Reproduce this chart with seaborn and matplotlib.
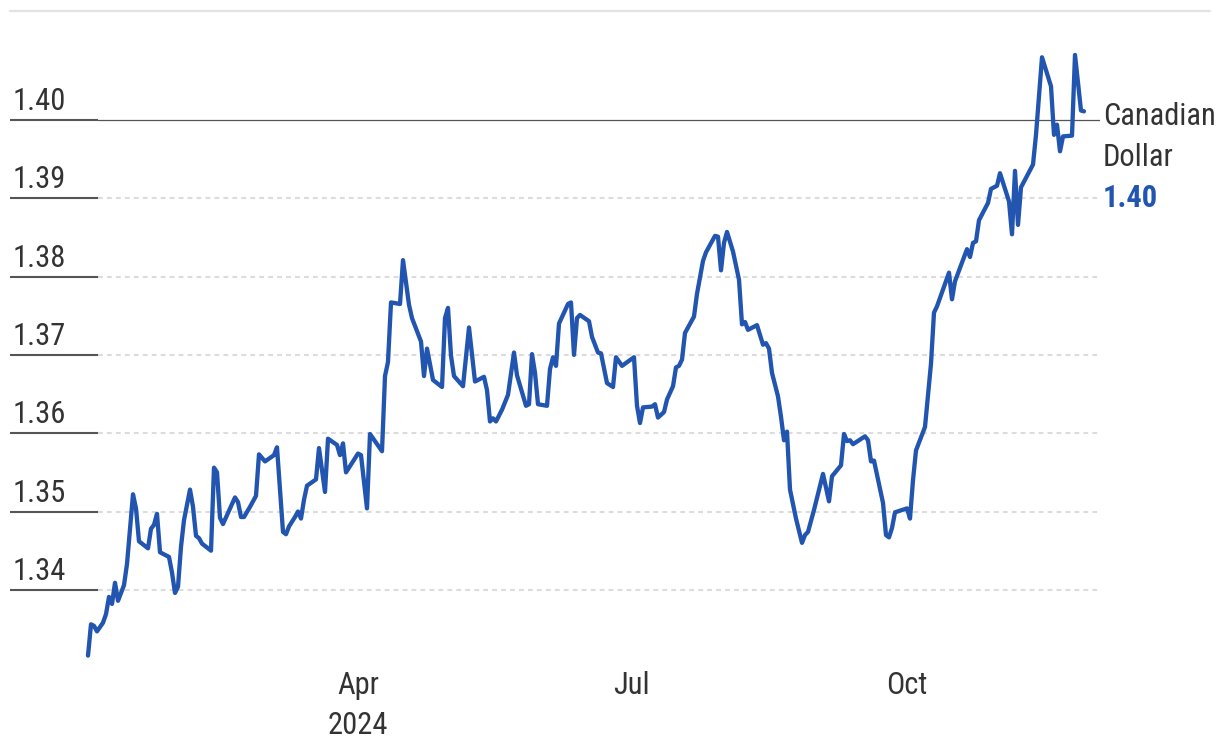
import numpy as np
import pandas as pd
import matplotlib
matplotlib.use("Agg")
import matplotlib.pyplot as plt
from matplotlib.lines import Line2D
from matplotlib import font_manager as fm
import seaborn as sns

# ---------------- data ----------------
start_date = "2024-01-01"
day_offsets = [
    1, 2, 3, 4, 6, 7, 8, 9, 10, 11,
    13, 14, 16, 17, 18, 21, 22, 23, 24, 25,
    28, 29, 30, 31, 32, 33, 35, 36, 37, 38,
    39, 42, 43, 44, 45, 46, 48, 50, 51, 52,
    53, 55, 57, 58, 60, 63, 64, 66, 67, 68,
    70, 71, 72, 73, 74, 77, 78, 80, 81, 84,
    85, 86, 87, 91, 92, 94, 95, 99, 100, 101,
    102, 105, 106, 108, 109, 112, 113, 114, 116, 119,
    120, 121, 122, 123, 126, 128, 130, 133, 134, 135,
    136, 137, 139, 141, 143, 144, 147, 148, 149, 150,
    151, 154, 155, 156, 157, 158, 161, 162, 163, 164,
    165, 168, 169, 171, 172, 174, 176, 177, 179, 183,
    184, 185, 186, 189, 190, 191, 193, 194, 196, 197,
    198, 199, 200, 203, 204, 206, 207, 210, 211, 212,
    213, 214, 216, 218, 219, 220, 221, 224, 226, 227,
    228, 229, 231, 232, 233, 234, 235, 237, 239, 240,
    241, 243, 246, 248, 249, 252, 253, 254, 255, 256,
    260, 261, 262, 263, 266, 267, 268, 269, 270, 274,
    275, 276, 277, 280, 282, 283, 284, 288, 289, 290,
    294, 295, 296, 297, 298, 301, 302, 304, 305, 308,
    309, 310, 311, 312, 316, 317, 319, 322, 323, 324,
    325, 326, 329, 330, 332, 333,
]
cad_rates = [
    1.3316, 1.3356, 1.3354, 1.3347, 1.3358, 1.3369, 1.3391, 1.3382, 1.3409, 1.3386,
    1.3406, 1.3433, 1.3522, 1.3504, 1.3462, 1.3453, 1.3478, 1.3483, 1.3497, 1.3448,
    1.3442, 1.3422, 1.3396, 1.3404, 1.3455, 1.3489, 1.3528, 1.3506, 1.3469, 1.3466,
    1.3459, 1.3450, 1.3556, 1.3550, 1.3492, 1.3484, 1.3501, 1.3518, 1.3512, 1.3493,
    1.3493, 1.3506, 1.3520, 1.3573, 1.3564, 1.3572, 1.3582, 1.3474, 1.3471, 1.3481,
    1.3493, 1.3500, 1.3491, 1.3515, 1.3533, 1.3541, 1.3581, 1.3525, 1.3593, 1.3585,
    1.3572, 1.3587, 1.3550, 1.3574, 1.3572, 1.3504, 1.3599, 1.3577, 1.3673, 1.3691,
    1.3767, 1.3765, 1.3821, 1.3764, 1.3747, 1.3717, 1.3673, 1.3708, 1.3668, 1.3659,
    1.3747, 1.3760, 1.3699, 1.3673, 1.3660, 1.3735, 1.3666, 1.3672, 1.3655, 1.3615,
    1.3619, 1.3615, 1.3630, 1.3649, 1.3703, 1.3674, 1.3635, 1.3637, 1.3701, 1.3677,
    1.3637, 1.3635, 1.3682, 1.3697, 1.3686, 1.3740, 1.3765, 1.3767, 1.3700, 1.3747,
    1.3751, 1.3743, 1.3723, 1.3703, 1.3702, 1.3664, 1.3659, 1.3697, 1.3686, 1.3697,
    1.3635, 1.3613, 1.3633, 1.3634, 1.3637, 1.3620, 1.3627, 1.3643, 1.3660, 1.3684,
    1.3686, 1.3694, 1.3728, 1.3749, 1.3778, 1.3820, 1.3831, 1.3852, 1.3851, 1.3808,
    1.3843, 1.3857, 1.3832, 1.3796, 1.3739, 1.3742, 1.3732, 1.3738, 1.3713, 1.3715,
    1.3708, 1.3677, 1.3647, 1.3621, 1.3591, 1.3602, 1.3528, 1.3491, 1.3460, 1.3470,
    1.3474, 1.3502, 1.3548, 1.3513, 1.3545, 1.3559, 1.3599, 1.3590, 1.3591, 1.3586,
    1.3596, 1.3591, 1.3564, 1.3565, 1.3511, 1.3470, 1.3467, 1.3479, 1.3499, 1.3504,
    1.3491, 1.3540, 1.3578, 1.3608, 1.3689, 1.3754, 1.3762, 1.3805, 1.3771, 1.3794,
    1.3835, 1.3825, 1.3843, 1.3845, 1.3872, 1.3894, 1.3912, 1.3916, 1.3932, 1.3896,
    1.3854, 1.3935, 1.3866, 1.3914, 1.3943, 1.3981, 1.4080, 1.4043, 1.3981, 1.3994,
    1.3960, 1.3979, 1.3980, 1.4083, 1.4012, 1.4011,
]
ytick_values = [1.34, 1.35, 1.36, 1.37, 1.38, 1.39, 1.40]
ytick_labels = ["1.34", "1.35", "1.36", "1.37", "1.38", "1.39", "1.40"]
xtick_dates = ["2024-04-01", "2024-07-01", "2024-10-01"]
xtick_labels = ["Apr\n2024", "Jul", "Oct"]
series_label = ["Canadian", "Dollar"]
last_value_label = "1.40"
highlight_level = 1.40

assert len(day_offsets) == len(cad_rates)

dates = pd.Timestamp(start_date) + pd.to_timedelta(day_offsets, unit="D")
df = pd.DataFrame({"date": dates, "rate": cad_rates})

# ---------------- font choice (narrow face if one is installed) ----------------
entries = fm.fontManager.ttflist
names = {f.name for f in entries}
family, stretch, FS = None, "normal", 19
for cand in ["Roboto Condensed", "Liberation Sans Narrow", "Arial Narrow",
             "Open Sans Condensed", "Noto Sans Condensed", "DejaVu Sans Condensed"]:
    if cand in names:
        family, FS = cand, 22
        break
if family is None:
    for fam in ["Roboto", "Open Sans", "Noto Sans", "DejaVu Sans"]:
        if any(f.name == fam and str(f.stretch).lower() in ("condensed", "semi-condensed", "semicondensed")
               for f in entries):
            family, stretch, FS = fam, "condensed", 22
            break
if family is None:
    family, FS = "Roboto", 19

# ---------------- style ----------------
sns.set_theme(style="white")
plt.rcParams["font.family"] = [family, "DejaVu Sans"]
plt.rcParams["font.stretch"] = stretch

BLUE = "#2155b0"
TEXT = "#333333"
DARK = "#555555"
GRID = "#dcdcdc"

W, H = 1220, 756
fig = plt.figure(figsize=(W / 100, H / 100), dpi=100)
ax_left, ax_right, ax_top, ax_bottom = 10, 1100, 10, 668
ax = fig.add_axes([ax_left / W, 1 - ax_bottom / H, (ax_right - ax_left) / W, (ax_bottom - ax_top) / H])

sns.lineplot(data=df, x="date", y="rate", ax=ax, color=BLUE, linewidth=3.1,
             estimator=None, zorder=5)

ax.set_xlim(pd.Timestamp("2023-12-07"), pd.Timestamp("2024-12-04 08:00"))
ax.set_ylim(1.33002, 1.41404)

for s in ax.spines.values():
    s.set_visible(False)
ax.set_xlabel("")
ax.set_ylabel("")
ax.grid(False)

# gridlines: dark stub at left + dashed light line
stub = (98 - ax_left) / (ax_right - ax_left)
for v, lbl in zip(ytick_values, ytick_labels):
    ax.axhline(v, 0, stub, color=DARK, lw=1.5, zorder=2, solid_capstyle="butt")
    if abs(v - highlight_level) < 1e-9:
        ax.axhline(v, stub, 1, color=DARK, lw=0.9, zorder=2)
    else:
        ax.axhline(v, stub, 1, color=GRID, lw=1.5, ls=(0, (2.3, 2.0)), zorder=1)
    ax.annotate(lbl, xy=(0, v), xycoords=("axes fraction", "data"),
                xytext=(1.5, 7.2), textcoords="offset points",
                ha="left", va="baseline", fontsize=FS, color=TEXT)

ax.set_yticks([])
ax.set_xticks(pd.to_datetime(xtick_dates))
ax.set_xticklabels(xtick_labels, fontsize=FS, color=TEXT)
for t in ax.get_xticklabels():
    t.set_linespacing(1.5)
ax.tick_params(axis="x", length=0, pad=2)

# right-side series label
last_rate = cad_rates[-1]
ax.annotate(series_label[0], xy=(1, last_rate), xycoords=("axes fraction", "data"),
            xytext=(2.2, -9.8), textcoords="offset points", ha="left", va="baseline",
            fontsize=FS, color=TEXT, annotation_clip=False)
ax.annotate(series_label[1], xy=(1, last_rate), xycoords=("axes fraction", "data"),
            xytext=(2.2, -39.3), textcoords="offset points", ha="left", va="baseline",
            fontsize=FS, color=TEXT, annotation_clip=False)
ax.annotate(last_value_label, xy=(1, last_rate), xycoords=("axes fraction", "data"),
            xytext=(2.2, -68.8), textcoords="offset points", ha="left", va="baseline",
            fontsize=FS, color=BLUE, fontweight="bold", annotation_clip=False)

# top rule
fig.add_artist(Line2D([10 / W, 1210 / W], [1 - 10.5 / H, 1 - 10.5 / H],
                      color="#e3e3e3", lw=1.6, transform=fig.transFigure))

fig.savefig("out.png", dpi=100)
